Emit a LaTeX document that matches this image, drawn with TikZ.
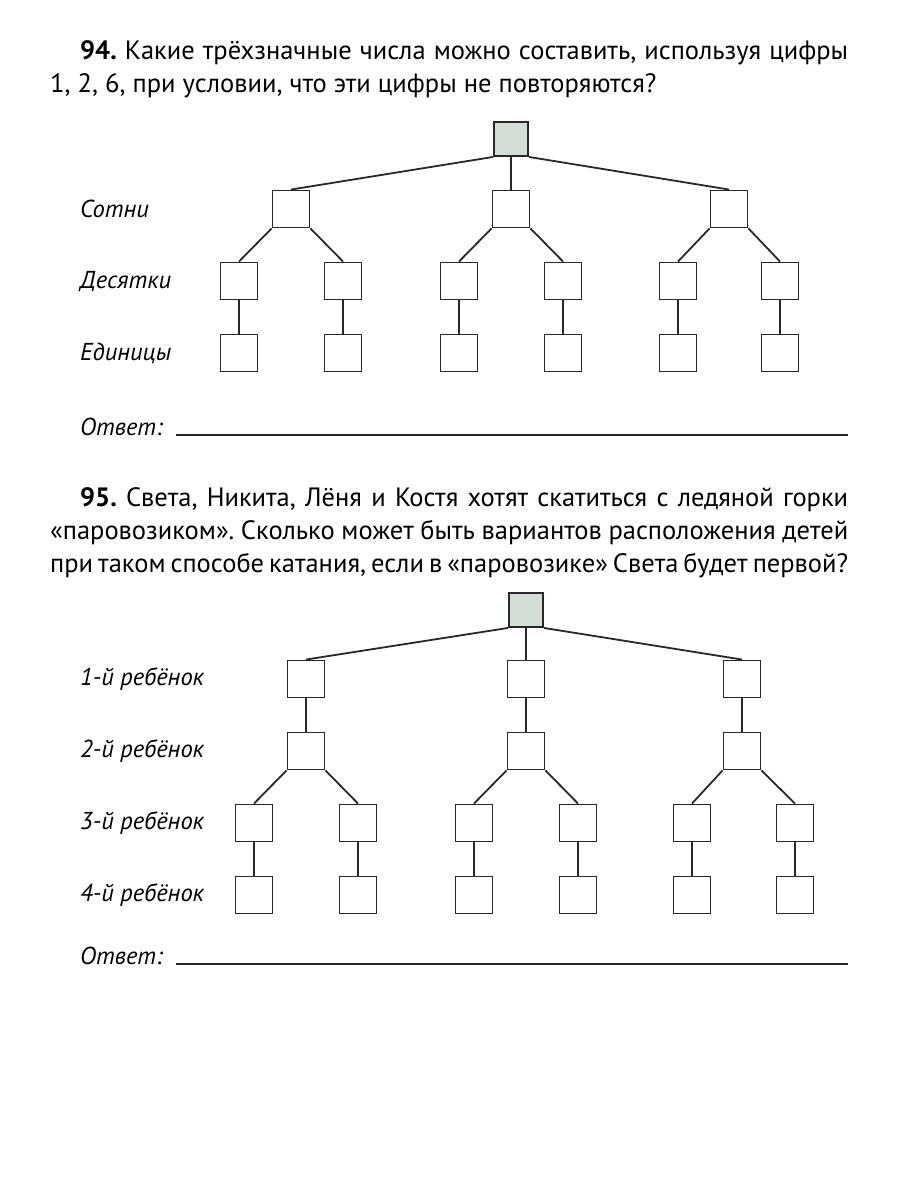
\documentclass[tikz,border=0pt]{standalone}
\usepackage{fontspec}
\setmainfont{PT Sans}
\usepackage{tikz}
\definecolor{rootgray}{RGB}{212,220,214}
\definecolor{linegray}{RGB}{40,40,40}
\frenchspacing

\begin{document}
\begin{tikzpicture}[x=1pt,y=-1pt,
    box/.style={draw=linegray,line width=1.9pt,minimum size=37pt,inner sep=0pt},
    topbox/.style={box,minimum size=34pt,fill=rootgray},
    edge/.style={draw=linegray,line width=1.8pt},
    rule/.style={draw=linegray,line width=1.4pt},
    lbl/.style={anchor=west,inner sep=0pt,font=\fontsize{24.5}{28}\selectfont\itshape},
    task/.style={anchor=north west,text width=798pt,align=justify,inner sep=0pt,font=\fontsize{26.5}{33}\selectfont}]
  \useasboundingbox (0,0) rectangle (900,1200);

  \node[task] (Q94) at (50,40) {\hspace*{30pt}\textbf{94.} Какие трёхзначные числа можно составить, используя цифры\linebreak 1, 2, 6, при условии, что эти цифры не повторяются?};

  \node[topbox] (R) at (511,139) {};
  \node[box] (A) at (291,209) {};
  \node[box] (B) at (511,209) {};
  \node[box] (C) at (729,209) {};
  \node[box] (A1) at (239,281) {}; \node[box] (A2) at (343,281) {};
  \node[box] (B1) at (459,281) {}; \node[box] (B2) at (563,281) {};
  \node[box] (C1) at (678,281) {}; \node[box] (C2) at (780,281) {};
  \node[box] (A11) at (239,353) {}; \node[box] (A21) at (343,353) {};
  \node[box] (B11) at (459,353) {}; \node[box] (B21) at (563,353) {};
  \node[box] (C11) at (678,353) {}; \node[box] (C21) at (780,353) {};

  \draw[edge] (R.south west) -- (A.north);
  \draw[edge] (R) -- (B);
  \draw[edge] (R.south east) -- (C.north);
  \draw[edge] (A.south west) -- (A1.north); \draw[edge] (A.south east) -- (A2.north);
  \draw[edge] (B.south west) -- (B1.north); \draw[edge] (B.south east) -- (B2.north);
  \draw[edge] (C.south west) -- (C1.north); \draw[edge] (C.south east) -- (C2.north);
  \draw[edge] (A1) -- (A11); \draw[edge] (A2) -- (A21);
  \draw[edge] (B1) -- (B11); \draw[edge] (B2) -- (B21);
  \draw[edge] (C1) -- (C11); \draw[edge] (C2) -- (C21);

  \node[lbl] (hund) at (80,209) {Сотни};
  \node[lbl] (tens) at (80,281) {Десятки};
  \node[lbl] (ones) at (80,353) {Единицы};

  \node[lbl] (ans94) at (80,427) {Ответ:};
  \coordinate (ans94a) at (176,435);
  \coordinate (ans94b) at (848,435);
  \draw[rule] (ans94a) -- (ans94b);

  \node[task] (Q95) at (50,487) {\hspace*{30pt}\textbf{95.} Света, Никита, Лёня и Костя хотят скатиться с ледяной горки\linebreak «паровозиком». Сколько может быть вариантов расположения детей\linebreak при таком способе катания, если в «паровозике» Света будет первой?};

  \node[topbox] (S) at (526,610) {};
  \node[box] (P) at (306,679) {};
  \node[box] (Q) at (526,679) {};
  \node[box] (W) at (742,679) {};
  \node[box] (P2) at (306,751) {};
  \node[box] (Q2) at (526,751) {};
  \node[box] (W2) at (742,751) {};
  \node[box] (P3a) at (254,823) {}; \node[box] (P3b) at (358,823) {};
  \node[box] (Q3a) at (474,823) {}; \node[box] (Q3b) at (578,823) {};
  \node[box] (W3a) at (692,823) {}; \node[box] (W3b) at (795,823) {};
  \node[box] (P4a) at (254,895) {}; \node[box] (P4b) at (358,895) {};
  \node[box] (Q4a) at (474,895) {}; \node[box] (Q4b) at (578,895) {};
  \node[box] (W4a) at (692,895) {}; \node[box] (W4b) at (795,895) {};

  \draw[edge] (S.south west) -- (P.north);
  \draw[edge] (S) -- (Q);
  \draw[edge] (S.south east) -- (W.north);
  \draw[edge] (P) -- (P2); \draw[edge] (Q) -- (Q2); \draw[edge] (W) -- (W2);
  \draw[edge] (P2.south west) -- (P3a.north); \draw[edge] (P2.south east) -- (P3b.north);
  \draw[edge] (Q2.south west) -- (Q3a.north); \draw[edge] (Q2.south east) -- (Q3b.north);
  \draw[edge] (W2.south west) -- (W3a.north); \draw[edge] (W2.south east) -- (W3b.north);
  \draw[edge] (P3a) -- (P4a); \draw[edge] (P3b) -- (P4b);
  \draw[edge] (Q3a) -- (Q4a); \draw[edge] (Q3b) -- (Q4b);
  \draw[edge] (W3a) -- (W4a); \draw[edge] (W3b) -- (W4b);

  \node[lbl] (kid1) at (80,679) {1-й ребёнок};
  \node[lbl] (kid2) at (80,751) {2-й ребёнок};
  \node[lbl] (kid3) at (80,823) {3-й ребёнок};
  \node[lbl] (kid4) at (80,895) {4-й ребёнок};

  \node[lbl] (ans95) at (80,956) {Ответ:};
  \coordinate (ans95a) at (176,964);
  \coordinate (ans95b) at (848,964);
  \draw[rule] (ans95a) -- (ans95b);
\end{tikzpicture}
\end{document}
